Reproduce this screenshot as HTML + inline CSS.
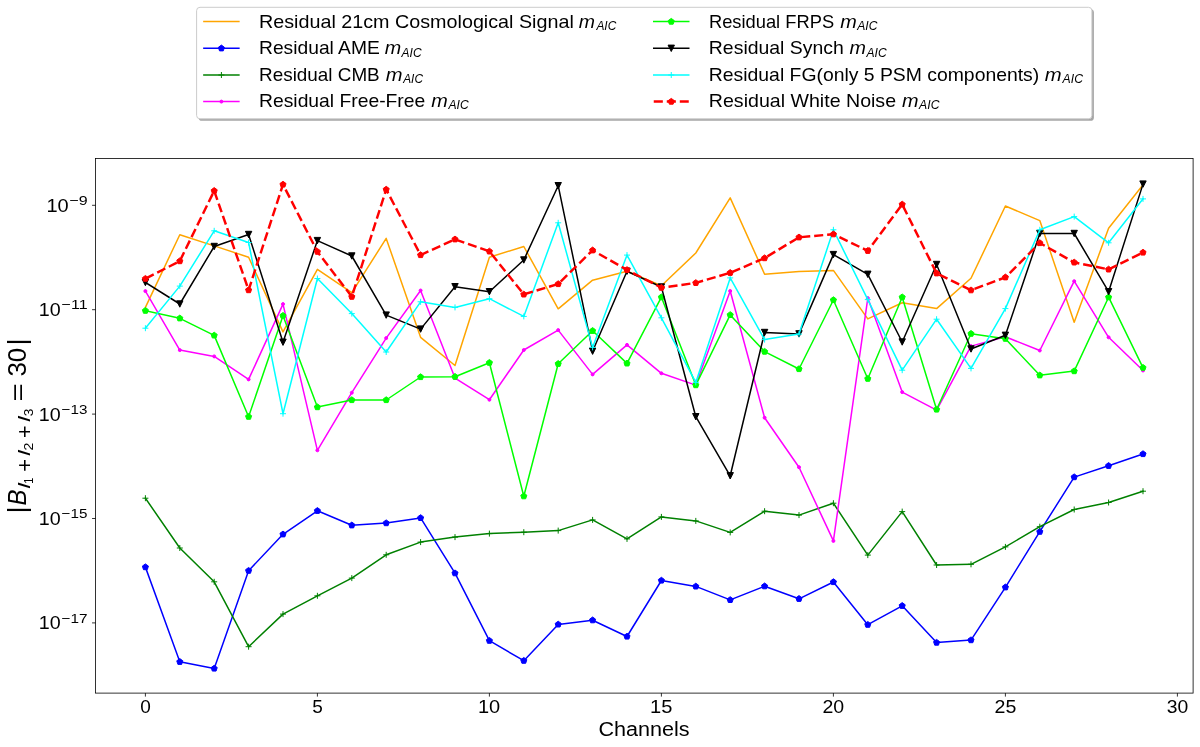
<!DOCTYPE html>
<html><head><meta charset="utf-8"><style>
html,body{margin:0;padding:0;background:#fff;width:1200px;height:747px;overflow:hidden}
svg{display:block;font-family:"Liberation Sans", sans-serif}
text{filter:grayscale(1)}
</style></head><body>
<svg width="1200" height="747" viewBox="0 0 1200 747">
<rect width="1200" height="747" fill="#fff"/>
<defs><clipPath id="ax"><rect x="95.55" y="158.5" width="1097.55" height="534.6"/></clipPath></defs>
<g clip-path="url(#ax)">
<path d="M145.4,307.4 L179.8,234.7 L214.2,245.9 L248.6,257.2 L283,331.9 L317.4,269.3 L351.8,292.7 L386.2,238.4 L420.6,337.3 L455,365.5 L489.4,257.2 L523.8,246.5 L558.2,308.8 L592.6,280.2 L627,271.2 L661.4,285.7 L695.8,253 L730.2,197.9 L764.6,274.2 L799,271.5 L833.4,270.4 L867.8,318.9 L902.2,302.7 L936.6,308.6 L971,278.3 L1005.4,206 L1039.8,220.6 L1074.2,322.3 L1108.6,228.2 L1143,184.9" fill="none" stroke="#ffa500" stroke-width="1.5" stroke-linejoin="round" stroke-linecap="square"/>
<path d="M145.4,567.1 L179.8,661.8 L214.2,668.5 L248.6,570.7 L283,534.3 L317.4,510.8 L351.8,525.3 L386.2,523.1 L420.6,517.9 L455,573.2 L489.4,640.7 L523.8,660.7 L558.2,624.4 L592.6,620.2 L627,636.5 L661.4,580.5 L695.8,586.4 L730.2,599.9 L764.6,586.2 L799,598.8 L833.4,582 L867.8,624.7 L902.2,605.8 L936.6,642.6 L971,640.1 L1005.4,587.3 L1039.8,531.7 L1074.2,477.1 L1108.6,465.8 L1143,454" fill="none" stroke="#0000ff" stroke-width="1.5" stroke-linejoin="round" stroke-linecap="square"/>
<path d="M145.4,563.9 L148.44,566.11 L147.28,569.69 L143.52,569.69 L142.36,566.11Z M179.8,658.6 L182.84,660.81 L181.68,664.39 L177.92,664.39 L176.76,660.81Z M214.2,665.3 L217.24,667.51 L216.08,671.09 L212.32,671.09 L211.16,667.51Z M248.6,567.5 L251.64,569.71 L250.48,573.29 L246.72,573.29 L245.56,569.71Z M283,531.1 L286.04,533.31 L284.88,536.89 L281.12,536.89 L279.96,533.31Z M317.4,507.6 L320.44,509.81 L319.28,513.39 L315.52,513.39 L314.36,509.81Z M351.8,522.1 L354.84,524.31 L353.68,527.89 L349.92,527.89 L348.76,524.31Z M386.2,519.9 L389.24,522.11 L388.08,525.69 L384.32,525.69 L383.16,522.11Z M420.6,514.7 L423.64,516.91 L422.48,520.49 L418.72,520.49 L417.56,516.91Z M455,570 L458.04,572.21 L456.88,575.79 L453.12,575.79 L451.96,572.21Z M489.4,637.5 L492.44,639.71 L491.28,643.29 L487.52,643.29 L486.36,639.71Z M523.8,657.5 L526.84,659.71 L525.68,663.29 L521.92,663.29 L520.76,659.71Z M558.2,621.2 L561.24,623.41 L560.08,626.99 L556.32,626.99 L555.16,623.41Z M592.6,617 L595.64,619.21 L594.48,622.79 L590.72,622.79 L589.56,619.21Z M627,633.3 L630.04,635.51 L628.88,639.09 L625.12,639.09 L623.96,635.51Z M661.4,577.3 L664.44,579.51 L663.28,583.09 L659.52,583.09 L658.36,579.51Z M695.8,583.2 L698.84,585.41 L697.68,588.99 L693.92,588.99 L692.76,585.41Z M730.2,596.7 L733.24,598.91 L732.08,602.49 L728.32,602.49 L727.16,598.91Z M764.6,583 L767.64,585.21 L766.48,588.79 L762.72,588.79 L761.56,585.21Z M799,595.6 L802.04,597.81 L800.88,601.39 L797.12,601.39 L795.96,597.81Z M833.4,578.8 L836.44,581.01 L835.28,584.59 L831.52,584.59 L830.36,581.01Z M867.8,621.5 L870.84,623.71 L869.68,627.29 L865.92,627.29 L864.76,623.71Z M902.2,602.6 L905.24,604.81 L904.08,608.39 L900.32,608.39 L899.16,604.81Z M936.6,639.4 L939.64,641.61 L938.48,645.19 L934.72,645.19 L933.56,641.61Z M971,636.9 L974.04,639.11 L972.88,642.69 L969.12,642.69 L967.96,639.11Z M1005.4,584.1 L1008.44,586.31 L1007.28,589.89 L1003.52,589.89 L1002.36,586.31Z M1039.8,528.5 L1042.84,530.71 L1041.68,534.29 L1037.92,534.29 L1036.76,530.71Z M1074.2,473.9 L1077.24,476.11 L1076.08,479.69 L1072.32,479.69 L1071.16,476.11Z M1108.6,462.6 L1111.64,464.81 L1110.48,468.39 L1106.72,468.39 L1105.56,464.81Z M1143,450.8 L1146.04,453.01 L1144.88,456.59 L1141.12,456.59 L1139.96,453.01Z" fill="#0000ff" stroke="#0000ff" stroke-width="1" stroke-linejoin="miter"/>
<path d="M145.4,498.2 L179.8,548 L214.2,581.8 L248.6,646.7 L283,614.1 L317.4,595.8 L351.8,578.1 L386.2,554.8 L420.6,542.1 L455,537.1 L489.4,533.6 L523.8,532.2 L558.2,530.6 L592.6,519.9 L627,538.9 L661.4,516.9 L695.8,520.9 L730.2,532.4 L764.6,511.2 L799,515.1 L833.4,503.2 L867.8,555.1 L902.2,511.6 L936.6,565 L971,564.3 L1005.4,546.9 L1039.8,526.7 L1074.2,509.5 L1108.6,502.5 L1143,491.2" fill="none" stroke="#008000" stroke-width="1.5" stroke-linejoin="round" stroke-linecap="square"/>
<path d="M142.4,498.2 H148.4 M145.4,495.2 V501.2 M176.8,548 H182.8 M179.8,545 V551 M211.2,581.8 H217.2 M214.2,578.8 V584.8 M245.6,646.7 H251.6 M248.6,643.7 V649.7 M280,614.1 H286 M283,611.1 V617.1 M314.4,595.8 H320.4 M317.4,592.8 V598.8 M348.8,578.1 H354.8 M351.8,575.1 V581.1 M383.2,554.8 H389.2 M386.2,551.8 V557.8 M417.6,542.1 H423.6 M420.6,539.1 V545.1 M452,537.1 H458 M455,534.1 V540.1 M486.4,533.6 H492.4 M489.4,530.6 V536.6 M520.8,532.2 H526.8 M523.8,529.2 V535.2 M555.2,530.6 H561.2 M558.2,527.6 V533.6 M589.6,519.9 H595.6 M592.6,516.9 V522.9 M624,538.9 H630 M627,535.9 V541.9 M658.4,516.9 H664.4 M661.4,513.9 V519.9 M692.8,520.9 H698.8 M695.8,517.9 V523.9 M727.2,532.4 H733.2 M730.2,529.4 V535.4 M761.6,511.2 H767.6 M764.6,508.2 V514.2 M796,515.1 H802 M799,512.1 V518.1 M830.4,503.2 H836.4 M833.4,500.2 V506.2 M864.8,555.1 H870.8 M867.8,552.1 V558.1 M899.2,511.6 H905.2 M902.2,508.6 V514.6 M933.6,565 H939.6 M936.6,562 V568 M968,564.3 H974 M971,561.3 V567.3 M1002.4,546.9 H1008.4 M1005.4,543.9 V549.9 M1036.8,526.7 H1042.8 M1039.8,523.7 V529.7 M1071.2,509.5 H1077.2 M1074.2,506.5 V512.5 M1105.6,502.5 H1111.6 M1108.6,499.5 V505.5 M1140,491.2 H1146 M1143,488.2 V494.2" fill="none" stroke="#008000" stroke-width="1"/>
<path d="M145.4,291.1 L179.8,350.1 L214.2,356.4 L248.6,379.4 L283,304.1 L317.4,450.3 L351.8,392.7 L386.2,338.1 L420.6,290.5 L455,378.1 L489.4,399.7 L523.8,350 L558.2,330.1 L592.6,374.4 L627,344.9 L661.4,373.3 L695.8,385.1 L730.2,291 L764.6,417.7 L799,467.2 L833.4,540.9 L867.8,298.1 L902.2,392.1 L936.6,410.1 L971,346.1 L1005.4,336.8 L1039.8,350.5 L1074.2,281.2 L1108.6,337.3 L1143,370.5" fill="none" stroke="#ff00ff" stroke-width="1.5" stroke-linejoin="round" stroke-linecap="square"/>
<circle cx="145.4" cy="291.1" r="1.5" fill="#ff00ff" stroke="#ff00ff" stroke-width="1"/>
<circle cx="179.8" cy="350.1" r="1.5" fill="#ff00ff" stroke="#ff00ff" stroke-width="1"/>
<circle cx="214.2" cy="356.4" r="1.5" fill="#ff00ff" stroke="#ff00ff" stroke-width="1"/>
<circle cx="248.6" cy="379.4" r="1.5" fill="#ff00ff" stroke="#ff00ff" stroke-width="1"/>
<circle cx="283" cy="304.1" r="1.5" fill="#ff00ff" stroke="#ff00ff" stroke-width="1"/>
<circle cx="317.4" cy="450.3" r="1.5" fill="#ff00ff" stroke="#ff00ff" stroke-width="1"/>
<circle cx="351.8" cy="392.7" r="1.5" fill="#ff00ff" stroke="#ff00ff" stroke-width="1"/>
<circle cx="386.2" cy="338.1" r="1.5" fill="#ff00ff" stroke="#ff00ff" stroke-width="1"/>
<circle cx="420.6" cy="290.5" r="1.5" fill="#ff00ff" stroke="#ff00ff" stroke-width="1"/>
<circle cx="455" cy="378.1" r="1.5" fill="#ff00ff" stroke="#ff00ff" stroke-width="1"/>
<circle cx="489.4" cy="399.7" r="1.5" fill="#ff00ff" stroke="#ff00ff" stroke-width="1"/>
<circle cx="523.8" cy="350" r="1.5" fill="#ff00ff" stroke="#ff00ff" stroke-width="1"/>
<circle cx="558.2" cy="330.1" r="1.5" fill="#ff00ff" stroke="#ff00ff" stroke-width="1"/>
<circle cx="592.6" cy="374.4" r="1.5" fill="#ff00ff" stroke="#ff00ff" stroke-width="1"/>
<circle cx="627" cy="344.9" r="1.5" fill="#ff00ff" stroke="#ff00ff" stroke-width="1"/>
<circle cx="661.4" cy="373.3" r="1.5" fill="#ff00ff" stroke="#ff00ff" stroke-width="1"/>
<circle cx="695.8" cy="385.1" r="1.5" fill="#ff00ff" stroke="#ff00ff" stroke-width="1"/>
<circle cx="730.2" cy="291" r="1.5" fill="#ff00ff" stroke="#ff00ff" stroke-width="1"/>
<circle cx="764.6" cy="417.7" r="1.5" fill="#ff00ff" stroke="#ff00ff" stroke-width="1"/>
<circle cx="799" cy="467.2" r="1.5" fill="#ff00ff" stroke="#ff00ff" stroke-width="1"/>
<circle cx="833.4" cy="540.9" r="1.5" fill="#ff00ff" stroke="#ff00ff" stroke-width="1"/>
<circle cx="867.8" cy="298.1" r="1.5" fill="#ff00ff" stroke="#ff00ff" stroke-width="1"/>
<circle cx="902.2" cy="392.1" r="1.5" fill="#ff00ff" stroke="#ff00ff" stroke-width="1"/>
<circle cx="936.6" cy="410.1" r="1.5" fill="#ff00ff" stroke="#ff00ff" stroke-width="1"/>
<circle cx="971" cy="346.1" r="1.5" fill="#ff00ff" stroke="#ff00ff" stroke-width="1"/>
<circle cx="1005.4" cy="336.8" r="1.5" fill="#ff00ff" stroke="#ff00ff" stroke-width="1"/>
<circle cx="1039.8" cy="350.5" r="1.5" fill="#ff00ff" stroke="#ff00ff" stroke-width="1"/>
<circle cx="1074.2" cy="281.2" r="1.5" fill="#ff00ff" stroke="#ff00ff" stroke-width="1"/>
<circle cx="1108.6" cy="337.3" r="1.5" fill="#ff00ff" stroke="#ff00ff" stroke-width="1"/>
<circle cx="1143" cy="370.5" r="1.5" fill="#ff00ff" stroke="#ff00ff" stroke-width="1"/>
<path d="M145.4,310.7 L179.8,318.3 L214.2,335.4 L248.6,416.7 L283,315.7 L317.4,407.1 L351.8,400 L386.2,400 L420.6,377 L455,376.7 L489.4,362.7 L523.8,496.2 L558.2,363.8 L592.6,330.8 L627,363.4 L661.4,297.2 L695.8,385.1 L730.2,314.9 L764.6,351.6 L799,369 L833.4,300 L867.8,378.7 L902.2,297.2 L936.6,409.5 L971,333.7 L1005.4,338.7 L1039.8,375.3 L1074.2,371.1 L1108.6,297.2 L1143,367.7" fill="none" stroke="#00ff00" stroke-width="1.5" stroke-linejoin="round" stroke-linecap="square"/>
<path d="M145.4,307.5 L148.44,309.71 L147.28,313.29 L143.52,313.29 L142.36,309.71Z M179.8,315.1 L182.84,317.31 L181.68,320.89 L177.92,320.89 L176.76,317.31Z M214.2,332.2 L217.24,334.41 L216.08,337.99 L212.32,337.99 L211.16,334.41Z M248.6,413.5 L251.64,415.71 L250.48,419.29 L246.72,419.29 L245.56,415.71Z M283,312.5 L286.04,314.71 L284.88,318.29 L281.12,318.29 L279.96,314.71Z M317.4,403.9 L320.44,406.11 L319.28,409.69 L315.52,409.69 L314.36,406.11Z M351.8,396.8 L354.84,399.01 L353.68,402.59 L349.92,402.59 L348.76,399.01Z M386.2,396.8 L389.24,399.01 L388.08,402.59 L384.32,402.59 L383.16,399.01Z M420.6,373.8 L423.64,376.01 L422.48,379.59 L418.72,379.59 L417.56,376.01Z M455,373.5 L458.04,375.71 L456.88,379.29 L453.12,379.29 L451.96,375.71Z M489.4,359.5 L492.44,361.71 L491.28,365.29 L487.52,365.29 L486.36,361.71Z M523.8,493 L526.84,495.21 L525.68,498.79 L521.92,498.79 L520.76,495.21Z M558.2,360.6 L561.24,362.81 L560.08,366.39 L556.32,366.39 L555.16,362.81Z M592.6,327.6 L595.64,329.81 L594.48,333.39 L590.72,333.39 L589.56,329.81Z M627,360.2 L630.04,362.41 L628.88,365.99 L625.12,365.99 L623.96,362.41Z M661.4,294 L664.44,296.21 L663.28,299.79 L659.52,299.79 L658.36,296.21Z M695.8,381.9 L698.84,384.11 L697.68,387.69 L693.92,387.69 L692.76,384.11Z M730.2,311.7 L733.24,313.91 L732.08,317.49 L728.32,317.49 L727.16,313.91Z M764.6,348.4 L767.64,350.61 L766.48,354.19 L762.72,354.19 L761.56,350.61Z M799,365.8 L802.04,368.01 L800.88,371.59 L797.12,371.59 L795.96,368.01Z M833.4,296.8 L836.44,299.01 L835.28,302.59 L831.52,302.59 L830.36,299.01Z M867.8,375.5 L870.84,377.71 L869.68,381.29 L865.92,381.29 L864.76,377.71Z M902.2,294 L905.24,296.21 L904.08,299.79 L900.32,299.79 L899.16,296.21Z M936.6,406.3 L939.64,408.51 L938.48,412.09 L934.72,412.09 L933.56,408.51Z M971,330.5 L974.04,332.71 L972.88,336.29 L969.12,336.29 L967.96,332.71Z M1005.4,335.5 L1008.44,337.71 L1007.28,341.29 L1003.52,341.29 L1002.36,337.71Z M1039.8,372.1 L1042.84,374.31 L1041.68,377.89 L1037.92,377.89 L1036.76,374.31Z M1074.2,367.9 L1077.24,370.11 L1076.08,373.69 L1072.32,373.69 L1071.16,370.11Z M1108.6,294 L1111.64,296.21 L1110.48,299.79 L1106.72,299.79 L1105.56,296.21Z M1143,364.5 L1146.04,366.71 L1144.88,370.29 L1141.12,370.29 L1139.96,366.71Z" fill="#00ff00" stroke="#00ff00" stroke-width="1" stroke-linejoin="miter"/>
<path d="M145.4,282.5 L179.8,304 L214.2,246.5 L248.6,234.5 L283,342.2 L317.4,240.6 L351.8,256 L386.2,315.1 L420.6,329.1 L455,286.7 L489.4,291.7 L523.8,260 L558.2,185.7 L592.6,351.2 L627,271.2 L661.4,287 L695.8,416.7 L730.2,475.8 L764.6,332.5 L799,333.9 L833.4,254.6 L867.8,274.3 L902.2,342 L936.6,264.5 L971,349 L1005.4,335.3 L1039.8,233.5 L1074.2,233.5 L1108.6,291.7 L1143,184.1" fill="none" stroke="#000000" stroke-width="1.5" stroke-linejoin="round" stroke-linecap="square"/>
<path d="M145.4,285.7 L142.2,279.3 L148.6,279.3 Z M179.8,307.2 L176.6,300.8 L183,300.8 Z M214.2,249.7 L211,243.3 L217.4,243.3 Z M248.6,237.7 L245.4,231.3 L251.8,231.3 Z M283,345.4 L279.8,339 L286.2,339 Z M317.4,243.8 L314.2,237.4 L320.6,237.4 Z M351.8,259.2 L348.6,252.8 L355,252.8 Z M386.2,318.3 L383,311.9 L389.4,311.9 Z M420.6,332.3 L417.4,325.9 L423.8,325.9 Z M455,289.9 L451.8,283.5 L458.2,283.5 Z M489.4,294.9 L486.2,288.5 L492.6,288.5 Z M523.8,263.2 L520.6,256.8 L527,256.8 Z M558.2,188.9 L555,182.5 L561.4,182.5 Z M592.6,354.4 L589.4,348 L595.8,348 Z M627,274.4 L623.8,268 L630.2,268 Z M661.4,290.2 L658.2,283.8 L664.6,283.8 Z M695.8,419.9 L692.6,413.5 L699,413.5 Z M730.2,479 L727,472.6 L733.4,472.6 Z M764.6,335.7 L761.4,329.3 L767.8,329.3 Z M799,337.1 L795.8,330.7 L802.2,330.7 Z M833.4,257.8 L830.2,251.4 L836.6,251.4 Z M867.8,277.5 L864.6,271.1 L871,271.1 Z M902.2,345.2 L899,338.8 L905.4,338.8 Z M936.6,267.7 L933.4,261.3 L939.8,261.3 Z M971,352.2 L967.8,345.8 L974.2,345.8 Z M1005.4,338.5 L1002.2,332.1 L1008.6,332.1 Z M1039.8,236.7 L1036.6,230.3 L1043,230.3 Z M1074.2,236.7 L1071,230.3 L1077.4,230.3 Z M1108.6,294.9 L1105.4,288.5 L1111.8,288.5 Z M1143,187.3 L1139.8,180.9 L1146.2,180.9 Z" fill="#000000" stroke="#000000" stroke-width="1"/>
<path d="M145.4,328.2 L179.8,286.1 L214.2,230.8 L248.6,242.5 L283,413.7 L317.4,278.5 L351.8,313.6 L386.2,352 L420.6,301.8 L455,307.4 L489.4,298.7 L523.8,316.4 L558.2,222.8 L592.6,347.4 L627,255.1 L661.4,317.8 L695.8,382.4 L730.2,277.9 L764.6,339.6 L799,334.1 L833.4,229.8 L867.8,299.6 L902.2,370.2 L936.6,319.2 L971,368.4 L1005.4,308.6 L1039.8,229.8 L1074.2,216.6 L1108.6,242.8 L1143,198.9" fill="none" stroke="#00ffff" stroke-width="1.5" stroke-linejoin="round" stroke-linecap="square"/>
<path d="M142.4,328.2 H148.4 M145.4,325.2 V331.2 M176.8,286.1 H182.8 M179.8,283.1 V289.1 M211.2,230.8 H217.2 M214.2,227.8 V233.8 M245.6,242.5 H251.6 M248.6,239.5 V245.5 M280,413.7 H286 M283,410.7 V416.7 M314.4,278.5 H320.4 M317.4,275.5 V281.5 M348.8,313.6 H354.8 M351.8,310.6 V316.6 M383.2,352 H389.2 M386.2,349 V355 M417.6,301.8 H423.6 M420.6,298.8 V304.8 M452,307.4 H458 M455,304.4 V310.4 M486.4,298.7 H492.4 M489.4,295.7 V301.7 M520.8,316.4 H526.8 M523.8,313.4 V319.4 M555.2,222.8 H561.2 M558.2,219.8 V225.8 M589.6,347.4 H595.6 M592.6,344.4 V350.4 M624,255.1 H630 M627,252.1 V258.1 M658.4,317.8 H664.4 M661.4,314.8 V320.8 M692.8,382.4 H698.8 M695.8,379.4 V385.4 M727.2,277.9 H733.2 M730.2,274.9 V280.9 M761.6,339.6 H767.6 M764.6,336.6 V342.6 M796,334.1 H802 M799,331.1 V337.1 M830.4,229.8 H836.4 M833.4,226.8 V232.8 M864.8,299.6 H870.8 M867.8,296.6 V302.6 M899.2,370.2 H905.2 M902.2,367.2 V373.2 M933.6,319.2 H939.6 M936.6,316.2 V322.2 M968,368.4 H974 M971,365.4 V371.4 M1002.4,308.6 H1008.4 M1005.4,305.6 V311.6 M1036.8,229.8 H1042.8 M1039.8,226.8 V232.8 M1071.2,216.6 H1077.2 M1074.2,213.6 V219.6 M1105.6,242.8 H1111.6 M1108.6,239.8 V245.8 M1140,198.9 H1146 M1143,195.9 V201.9" fill="none" stroke="#00ffff" stroke-width="1"/>
<path d="M145.4,278.7 L179.8,261.1 L214.2,190.8 L248.6,290.1 L283,184.5 L317.4,251.7 L351.8,296.7 L386.2,189.5 L420.6,255 L455,239.3 L489.4,251.4 L523.8,294.4 L558.2,284 L592.6,250.3 L627,269.9 L661.4,287.7 L695.8,282.9 L730.2,272.8 L764.6,258.1 L799,237.3 L833.4,234.2 L867.8,250.8 L902.2,204.4 L936.6,273.3 L971,290.2 L1005.4,277.3 L1039.8,243 L1074.2,262.4 L1108.6,269.4 L1143,252.5" fill="none" stroke="#ff0000" stroke-width="2.46" stroke-linejoin="round" stroke-linecap="butt" stroke-dasharray="9.09,3.93" stroke-dashoffset="-0.25"/>
<path d="M145.4,275.5 L148.44,277.71 L147.28,281.29 L143.52,281.29 L142.36,277.71Z M179.8,257.9 L182.84,260.11 L181.68,263.69 L177.92,263.69 L176.76,260.11Z M214.2,187.6 L217.24,189.81 L216.08,193.39 L212.32,193.39 L211.16,189.81Z M248.6,286.9 L251.64,289.11 L250.48,292.69 L246.72,292.69 L245.56,289.11Z M283,181.3 L286.04,183.51 L284.88,187.09 L281.12,187.09 L279.96,183.51Z M317.4,248.5 L320.44,250.71 L319.28,254.29 L315.52,254.29 L314.36,250.71Z M351.8,293.5 L354.84,295.71 L353.68,299.29 L349.92,299.29 L348.76,295.71Z M386.2,186.3 L389.24,188.51 L388.08,192.09 L384.32,192.09 L383.16,188.51Z M420.6,251.8 L423.64,254.01 L422.48,257.59 L418.72,257.59 L417.56,254.01Z M455,236.1 L458.04,238.31 L456.88,241.89 L453.12,241.89 L451.96,238.31Z M489.4,248.2 L492.44,250.41 L491.28,253.99 L487.52,253.99 L486.36,250.41Z M523.8,291.2 L526.84,293.41 L525.68,296.99 L521.92,296.99 L520.76,293.41Z M558.2,280.8 L561.24,283.01 L560.08,286.59 L556.32,286.59 L555.16,283.01Z M592.6,247.1 L595.64,249.31 L594.48,252.89 L590.72,252.89 L589.56,249.31Z M627,266.7 L630.04,268.91 L628.88,272.49 L625.12,272.49 L623.96,268.91Z M661.4,284.5 L664.44,286.71 L663.28,290.29 L659.52,290.29 L658.36,286.71Z M695.8,279.7 L698.84,281.91 L697.68,285.49 L693.92,285.49 L692.76,281.91Z M730.2,269.6 L733.24,271.81 L732.08,275.39 L728.32,275.39 L727.16,271.81Z M764.6,254.9 L767.64,257.11 L766.48,260.69 L762.72,260.69 L761.56,257.11Z M799,234.1 L802.04,236.31 L800.88,239.89 L797.12,239.89 L795.96,236.31Z M833.4,231 L836.44,233.21 L835.28,236.79 L831.52,236.79 L830.36,233.21Z M867.8,247.6 L870.84,249.81 L869.68,253.39 L865.92,253.39 L864.76,249.81Z M902.2,201.2 L905.24,203.41 L904.08,206.99 L900.32,206.99 L899.16,203.41Z M936.6,270.1 L939.64,272.31 L938.48,275.89 L934.72,275.89 L933.56,272.31Z M971,287 L974.04,289.21 L972.88,292.79 L969.12,292.79 L967.96,289.21Z M1005.4,274.1 L1008.44,276.31 L1007.28,279.89 L1003.52,279.89 L1002.36,276.31Z M1039.8,239.8 L1042.84,242.01 L1041.68,245.59 L1037.92,245.59 L1036.76,242.01Z M1074.2,259.2 L1077.24,261.41 L1076.08,264.99 L1072.32,264.99 L1071.16,261.41Z M1108.6,266.2 L1111.64,268.41 L1110.48,271.99 L1106.72,271.99 L1105.56,268.41Z M1143,249.3 L1146.04,251.51 L1144.88,255.09 L1141.12,255.09 L1139.96,251.51Z" fill="#ff0000" stroke="#ff0000" stroke-width="1" stroke-linejoin="miter"/>
</g>
<rect x="95.55" y="158.5" width="1097.55" height="534.6" fill="none" stroke="#000" stroke-width="0.8"/>
<path d="M145.4,693.1 V696.6 M317.4,693.1 V696.6 M489.4,693.1 V696.6 M661.4,693.1 V696.6 M833.4,693.1 V696.6 M1005.4,693.1 V696.6 M1177.4,693.1 V696.6" stroke="#000" stroke-width="0.8"/>
<text x="140.18" y="713.3" font-size="19" textLength="10.57" lengthAdjust="spacingAndGlyphs" fill="#000">0</text>
<text x="312.23" y="713.3" font-size="19" textLength="10.57" lengthAdjust="spacingAndGlyphs" fill="#000">5</text>
<text x="478" y="713.3" font-size="19" textLength="22.25" lengthAdjust="spacingAndGlyphs" fill="#000">10</text>
<text x="649.99" y="713.3" font-size="19" textLength="22.36" lengthAdjust="spacingAndGlyphs" fill="#000">15</text>
<text x="822.52" y="713.3" font-size="19" textLength="21.7" lengthAdjust="spacingAndGlyphs" fill="#000">20</text>
<text x="994.52" y="713.3" font-size="19" textLength="21.81" lengthAdjust="spacingAndGlyphs" fill="#000">25</text>
<text x="1166.73" y="713.3" font-size="19" textLength="21.49" lengthAdjust="spacingAndGlyphs" fill="#000">30</text>
<path d="M92.05,205.3 H95.55 M92.05,309.7 H95.55 M92.05,414.1 H95.55 M92.05,518.5 H95.55 M92.05,622.9 H95.55" stroke="#000" stroke-width="0.8"/>
<text x="46.5" y="211.7" font-size="19" textLength="22.25" lengthAdjust="spacingAndGlyphs" fill="#000">10</text>
<text x="69.5" y="204.9" font-size="13.4" textLength="18.22" lengthAdjust="spacingAndGlyphs" fill="#000">−9</text>
<text x="38.82" y="316.1" font-size="19" textLength="21.91" lengthAdjust="spacingAndGlyphs" fill="#000">10</text>
<text x="61.6" y="309.3" font-size="13.4" textLength="25.95" lengthAdjust="spacingAndGlyphs" fill="#000">−11</text>
<text x="38.82" y="420.5" font-size="19" textLength="21.91" lengthAdjust="spacingAndGlyphs" fill="#000">10</text>
<text x="61.64" y="413.7" font-size="13.4" textLength="25.79" lengthAdjust="spacingAndGlyphs" fill="#000">−13</text>
<text x="38.82" y="524.9" font-size="19" textLength="21.91" lengthAdjust="spacingAndGlyphs" fill="#000">10</text>
<text x="61.64" y="518.1" font-size="13.4" textLength="25.79" lengthAdjust="spacingAndGlyphs" fill="#000">−15</text>
<text x="38.82" y="629.3" font-size="19" textLength="21.91" lengthAdjust="spacingAndGlyphs" fill="#000">10</text>
<text x="61.64" y="622.5" font-size="13.4" textLength="25.95" lengthAdjust="spacingAndGlyphs" fill="#000">−17</text>
<text x="598.42" y="735.5" font-size="20" textLength="91.24" lengthAdjust="spacingAndGlyphs" fill="#000">Channels</text>
<g transform="rotate(-90)"><text x="-513.58" y="26.14" font-size="25.99" textLength="7.14" lengthAdjust="spacingAndGlyphs" fill="#000">|</text><text x="-505.52" y="26.2" font-size="26.38" textLength="15.99" lengthAdjust="spacingAndGlyphs" font-style="italic" fill="#000">B</text><text x="-488.78" y="29.7" font-size="17.24" textLength="5.6" lengthAdjust="spacingAndGlyphs" font-style="italic" fill="#000">l</text><text x="-483.63" y="33.2" font-size="13.19" textLength="6.14" lengthAdjust="spacingAndGlyphs" fill="#000">1</text><text x="-471.7" y="31.63" font-size="21.43" textLength="12.88" lengthAdjust="spacingAndGlyphs" fill="#000">+</text><text x="-455.98" y="29.7" font-size="17.24" textLength="5.6" lengthAdjust="spacingAndGlyphs" font-style="italic" fill="#000">l</text><text x="-450.5" y="33.3" font-size="13.14" textLength="7.82" lengthAdjust="spacingAndGlyphs" fill="#000">2</text><text x="-437.97" y="31.63" font-size="21.43" textLength="12.52" lengthAdjust="spacingAndGlyphs" fill="#000">+</text><text x="-421.98" y="29.7" font-size="17.24" textLength="5.6" lengthAdjust="spacingAndGlyphs" font-style="italic" fill="#000">l</text><text x="-416.25" y="33.17" font-size="12.96" textLength="7.61" lengthAdjust="spacingAndGlyphs" fill="#000">3</text><text x="-401.46" y="26.26" font-size="24" textLength="18.18" lengthAdjust="spacingAndGlyphs" fill="#000">=</text><text x="-376.54" y="26.04" font-size="25.77" textLength="28.8" lengthAdjust="spacingAndGlyphs" fill="#000">30</text><text x="-345.47" y="26.14" font-size="25.99" textLength="7.14" lengthAdjust="spacingAndGlyphs" fill="#000">|</text></g>
<rect x="198.6" y="9.3" width="895.3" height="111.5" rx="3.4" fill="#a6a6a6"/>
<rect x="196.6" y="7.3" width="895.3" height="111.5" rx="3.4" fill="#fff" stroke="#ccc" stroke-width="1"/>
<path d="M203.9,21.6 H238.9" stroke="#ffa500" stroke-width="1.5" stroke-linecap="square"/>
<text x="259.02" y="27.75" font-size="18.5" textLength="314.81" lengthAdjust="spacingAndGlyphs" fill="#000">Residual 21cm Cosmological Signal</text>
<text x="578.71" y="27.75" font-size="18.5" textLength="16.23" lengthAdjust="spacingAndGlyphs" font-style="italic" fill="#000">m</text>
<text x="596.4" y="29.95" font-size="13.3" textLength="19.87" lengthAdjust="spacingAndGlyphs" font-style="italic" fill="#000">AIC</text>
<path d="M203.9,48.3 H238.9" stroke="#0000ff" stroke-width="1.5" stroke-linecap="square"/>
<path d="M221.4,45.1 L224.44,47.31 L223.28,50.89 L219.52,50.89 L218.36,47.31Z" fill="#0000ff" stroke="#0000ff" stroke-width="1" stroke-linejoin="miter"/>
<text x="259.06" y="54.3" font-size="18.5" textLength="120.73" lengthAdjust="spacingAndGlyphs" fill="#000">Residual AME</text>
<text x="384.7" y="54.3" font-size="18.5" textLength="16.44" lengthAdjust="spacingAndGlyphs" font-style="italic" fill="#000">m</text>
<text x="401.6" y="56.5" font-size="13.3" textLength="20.06" lengthAdjust="spacingAndGlyphs" font-style="italic" fill="#000">AIC</text>
<path d="M203.9,75 H238.9" stroke="#008000" stroke-width="1.5" stroke-linecap="square"/>
<path d="M218.4,75 H224.4 M221.4,72 V78" fill="none" stroke="#008000" stroke-width="1"/>
<text x="259.09" y="80.7" font-size="18.5" textLength="120.63" lengthAdjust="spacingAndGlyphs" fill="#000">Residual CMB</text>
<text x="385.7" y="80.7" font-size="18.5" textLength="16.77" lengthAdjust="spacingAndGlyphs" font-style="italic" fill="#000">m</text>
<text x="403.19" y="82.9" font-size="13.3" textLength="19.77" lengthAdjust="spacingAndGlyphs" font-style="italic" fill="#000">AIC</text>
<path d="M203.9,101.6 H238.9" stroke="#ff00ff" stroke-width="1.5" stroke-linecap="square"/>
<circle cx="221.4" cy="101.6" r="1.5" fill="#ff00ff" stroke="#ff00ff" stroke-width="1"/>
<text x="259.06" y="107" font-size="18.5" textLength="166.2" lengthAdjust="spacingAndGlyphs" fill="#000">Residual Free-Free</text>
<text x="431.3" y="107" font-size="18.5" textLength="16.55" lengthAdjust="spacingAndGlyphs" font-style="italic" fill="#000">m</text>
<text x="448.51" y="109.2" font-size="13.3" textLength="20.21" lengthAdjust="spacingAndGlyphs" font-style="italic" fill="#000">AIC</text>
<path d="M653.75,21.6 H688.75" stroke="#00ff00" stroke-width="1.5" stroke-linecap="square"/>
<path d="M671.25,18.4 L674.29,20.61 L673.13,24.19 L669.37,24.19 L668.21,20.61Z" fill="#00ff00" stroke="#00ff00" stroke-width="1" stroke-linejoin="miter"/>
<text x="708.93" y="27.75" font-size="18.5" textLength="125.21" lengthAdjust="spacingAndGlyphs" fill="#000">Residual FRPS</text>
<text x="840.2" y="27.75" font-size="18.5" textLength="16.55" lengthAdjust="spacingAndGlyphs" font-style="italic" fill="#000">m</text>
<text x="857.3" y="29.95" font-size="13.3" textLength="20.16" lengthAdjust="spacingAndGlyphs" font-style="italic" fill="#000">AIC</text>
<path d="M653.75,48.3 H688.75" stroke="#000000" stroke-width="1.5" stroke-linecap="square"/>
<path d="M671.25,51.5 L668.05,45.1 L674.45,45.1 Z" fill="#000000" stroke="#000000" stroke-width="1"/>
<text x="708.85" y="54.3" font-size="18.5" textLength="134.98" lengthAdjust="spacingAndGlyphs" fill="#000">Residual Synch</text>
<text x="849.5" y="54.3" font-size="18.5" textLength="16.44" lengthAdjust="spacingAndGlyphs" font-style="italic" fill="#000">m</text>
<text x="866.5" y="56.5" font-size="13.3" textLength="20.16" lengthAdjust="spacingAndGlyphs" font-style="italic" fill="#000">AIC</text>
<path d="M653.75,75 H688.75" stroke="#00ffff" stroke-width="1.5" stroke-linecap="square"/>
<path d="M668.25,75 H674.25 M671.25,72 V78" fill="none" stroke="#00ffff" stroke-width="1"/>
<text x="708.85" y="80.7" font-size="18.5" textLength="330.37" lengthAdjust="spacingAndGlyphs" fill="#000">Residual FG(only 5 PSM components)</text>
<text x="1044.7" y="80.7" font-size="18.5" textLength="16.88" lengthAdjust="spacingAndGlyphs" font-style="italic" fill="#000">m</text>
<text x="1062.61" y="82.9" font-size="13.3" textLength="20.35" lengthAdjust="spacingAndGlyphs" font-style="italic" fill="#000">AIC</text>
<path d="M653.75,101.6 H688.75" stroke="#ff0000" stroke-width="2.46" stroke-dasharray="9.09,3.93"/>
<path d="M671.25,98.4 L674.29,100.61 L673.13,104.19 L669.37,104.19 L668.21,100.61Z" fill="#ff0000" stroke="#ff0000" stroke-width="1" stroke-linejoin="miter"/>
<text x="708.83" y="107" font-size="18.5" textLength="187.24" lengthAdjust="spacingAndGlyphs" fill="#000">Residual White Noise</text>
<text x="901.9" y="107" font-size="18.5" textLength="16.55" lengthAdjust="spacingAndGlyphs" font-style="italic" fill="#000">m</text>
<text x="919.11" y="109.2" font-size="13.3" textLength="20.35" lengthAdjust="spacingAndGlyphs" font-style="italic" fill="#000">AIC</text>
</svg>
</body></html>
